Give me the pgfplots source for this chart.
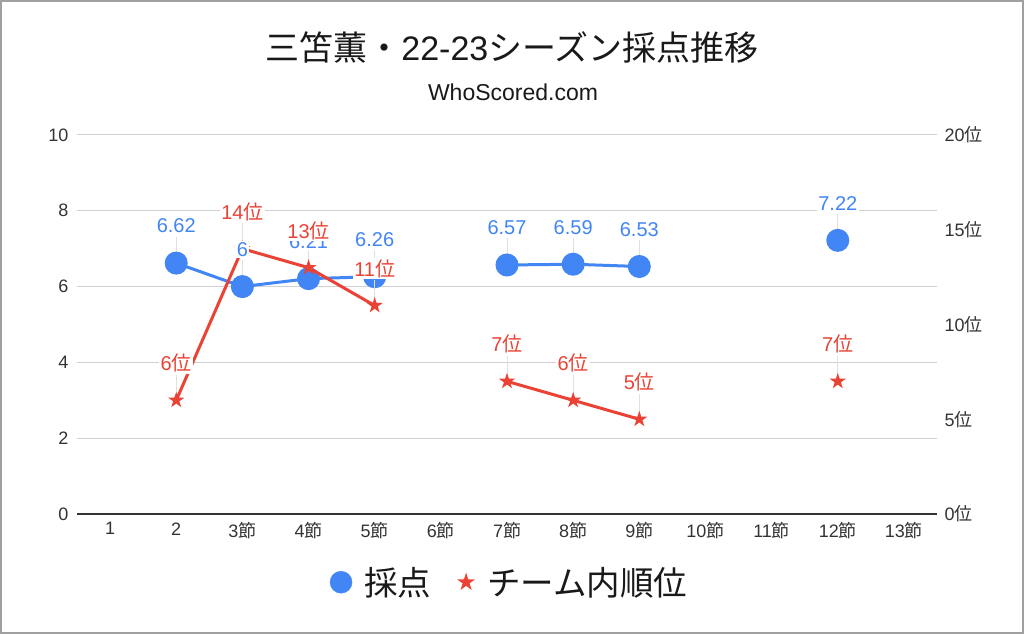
\documentclass[border=0pt]{standalone}
\usepackage{fontspec}
\setmainfont{Liberation Sans}
\newfontfamily\jp{Noto Sans CJK JP}
\usepackage{pgfplots}
\pgfplotsset{compat=1.18}
\usepackage{pgfplotstable}
\definecolor{gblue}{HTML}{4285F4}
\definecolor{gred}{HTML}{EA4335}
\definecolor{gridc}{HTML}{D0D0D0}
\definecolor{framec}{HTML}{A0A0A0}
\definecolor{tickc}{HTML}{333333}
\newcommand\setsu{{\jp 節}}
\newcommand\wei{{\jp 位}}

\pgfdeclareplotmark{fstar}{%
  \pgfpathmoveto{\pgfpointpolar{90}{\pgfplotmarksize}}%
  \pgfpathlineto{\pgfpointpolar{126}{0.382\pgfplotmarksize}}%
  \pgfpathlineto{\pgfpointpolar{162}{\pgfplotmarksize}}%
  \pgfpathlineto{\pgfpointpolar{198}{0.382\pgfplotmarksize}}%
  \pgfpathlineto{\pgfpointpolar{234}{\pgfplotmarksize}}%
  \pgfpathlineto{\pgfpointpolar{270}{0.382\pgfplotmarksize}}%
  \pgfpathlineto{\pgfpointpolar{306}{\pgfplotmarksize}}%
  \pgfpathlineto{\pgfpointpolar{342}{0.382\pgfplotmarksize}}%
  \pgfpathlineto{\pgfpointpolar{18}{\pgfplotmarksize}}%
  \pgfpathlineto{\pgfpointpolar{54}{0.382\pgfplotmarksize}}%
  \pgfpathclose\pgfusepathqfill}

% 採点 (left axis)
\pgfplotstableread{
x y
2 6.62
3 6
4 6.21
5 6.26
6 nan
7 6.57
8 6.59
9 6.53
10 nan
11 nan
12 7.22
}\score
% チーム内順位 (right axis)
\pgfplotstableread{
x y
2 6
3 14
4 13
5 11
6 nan
7 7
8 6
9 5
10 nan
11 nan
12 7
}\rank

\pgfplotsset{base/.style={scale only axis, width=860pt, height=379pt,
  at={(77pt,120pt)}, anchor=south west, xmin=0.5, xmax=13.5,
  unbounded coords=jump}}

\begin{document}
\begin{tikzpicture}[x=1pt,y=1pt]
\useasboundingbox (0,0) rectangle (1024,634);
\draw[framec, line width=2pt] (1,1) rectangle (1023,633);
\node[font=\fontsize{34}{34}\selectfont, text=black!90] at (512,587) {{\jp 三笘薫・}22-23{\jp シーズン採点推移}};
\node[font=\fontsize{23}{23}\selectfont, text=black!90] at (513,542) {WhoScored.com};

% axis 1: blue series, left axis, grid, x labels, legend
\begin{axis}[base, ymin=0, ymax=10, ytick={0,2,4,6,8,10}, yticklabels={0,2,4,6,8,10},
  xtick={1,...,13}, xticklabels={1,2,3\setsu,4\setsu,5\setsu,6\setsu,7\setsu,8\setsu,9\setsu,10\setsu,11\setsu,12\setsu,13\setsu},
  axis x line*=bottom, axis y line*=left, y axis line style={draw=none},
  x axis line style={draw=tickc, line width=1.3pt},
  major tick length=0pt, ymajorgrids, grid style={gridc, line width=1pt},
  tick label style={font=\fontsize{18}{18}\selectfont, text=tickc},
  yticklabel style={xshift=-5pt}, xticklabel style={yshift=-5pt},
  legend style={at={(0.503,-0.18)}, anchor=center, draw=none, fill=none,
    legend columns=-1, font=\jp\fontsize{33.5}{33.5}\selectfont, text=black!90,
    /tikz/every odd column/.append style={column sep=10pt},
    /tikz/every even column/.append style={column sep=24pt}},
  clip=false]
\addplot[draw=none, forget plot, error bars/.cd, y dir=plus, y fixed=0.7, error mark=none,
  error bar style={draw=black!12, line width=1pt, solid}] table {\score};
\addplot[gblue, line width=3pt, mark=*, mark size=10pt, mark options={solid}, forget plot] table {\score};
\addlegendimage{only marks, mark=*, gblue, mark size=11pt}
\addlegendentry{採点}
\addlegendimage{only marks, mark=fstar, gred, mark size=9.5pt}
\addlegendentry{チーム内順位}
\end{axis}

% axis 2: red series, right axis
\begin{axis}[base, ymin=0, ymax=20, ytick={0,5,10,15,20},
  yticklabels={0\wei,5\wei,10\wei,15\wei,20\wei},
  hide x axis, axis y line*=right, y axis line style={draw=none},
  major tick length=0pt,
  tick label style={font=\fontsize{18}{18}\selectfont, text=tickc},
  yticklabel style={xshift=4pt}, clip=false]
\addplot[draw=none, error bars/.cd, y dir=plus, y fixed=1.35, error mark=none,
  error bar style={draw=black!12, line width=1pt, solid}] table {\rank};
\addplot[gred, line width=3pt, mark=fstar, mark size=8.5pt, mark options={solid}] table {\rank};
\end{axis}

% axis 3: blue data labels
\begin{axis}[base, ymin=0, ymax=10, hide axis, clip=false]
\addplot[draw=none, mark=none, point meta=explicit symbolic,
  nodes near coords={\pgfplotspointmeta},
  every node near coord/.append style={font=\fontsize{20}{20}\selectfont, text=gblue,
    fill=white, inner sep=1.5pt, anchor=center, yshift=37pt}] table[meta=y] {\score};
\end{axis}

% axis 4: red data labels
\begin{axis}[base, ymin=0, ymax=20, hide axis, clip=false]
\addplot[draw=none, mark=none, point meta=explicit symbolic,
  nodes near coords={\pgfplotspointmeta\wei},
  every node near coord/.append style={font=\fontsize{20}{20}\selectfont, text=gred,
    fill=white, inner sep=1.5pt, anchor=center, yshift=37pt}] table[meta=y] {\rank};
\end{axis}
\end{tikzpicture}
\end{document}
